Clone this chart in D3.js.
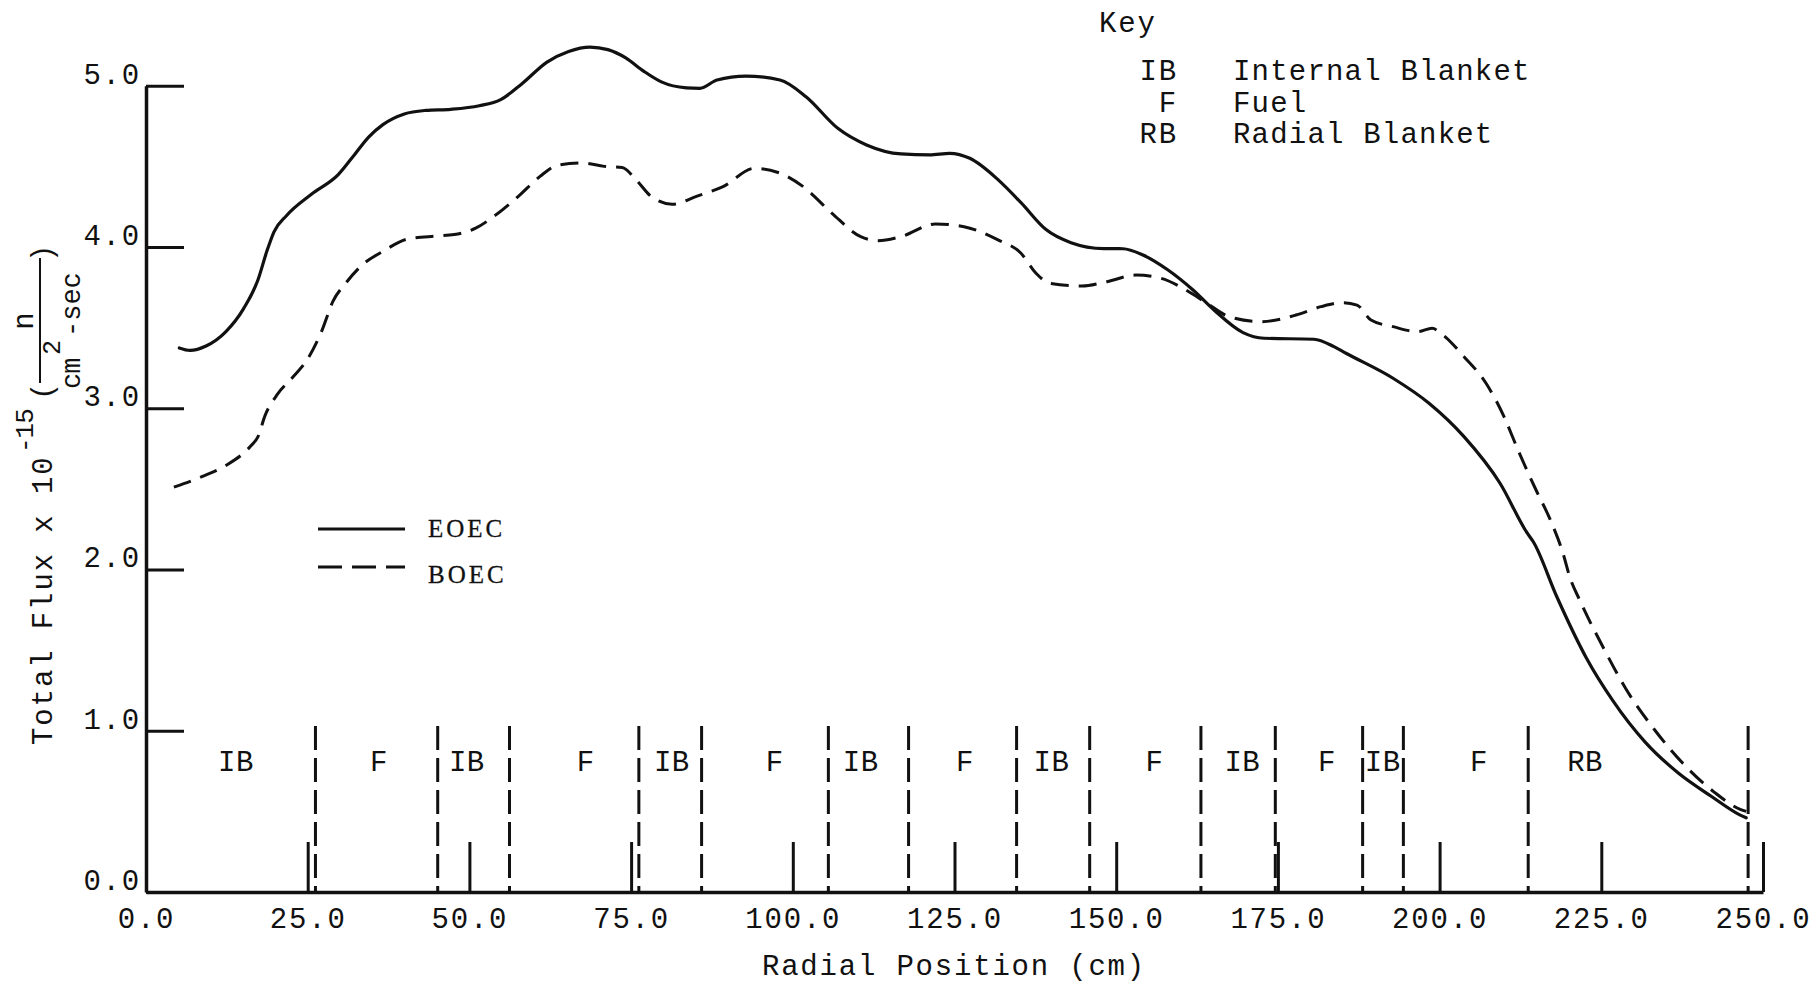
<!DOCTYPE html>
<html>
<head>
<meta charset="utf-8">
<script src="https://cdn.jsdelivr.net/npm/d3@7"></script>
<style>
  html, body { margin: 0; padding: 0; background: #ffffff; }
  svg { display: block; }
  .tw { font-family: "Liberation Mono", "DejaVu Sans Mono", monospace; fill: #111; }
  .serif { font-family: "Liberation Serif", "DejaVu Serif", serif; fill: #111; }
</style>
</head>
<body>
<svg id="chart" width="1816" height="987"></svg>
<script>
// Total neutron flux (x 1e15 n/cm^2-sec) versus radial position (cm)

// End of equilibrium cycle
const radiusEOEC = [5.15, 6.8, 9.28, 12.32, 15.09, 17.3, 18.68, 19.79, 21.71, 25.57, 29.72, 32.2, 34.42, 36.63,
  39.94, 43.24, 47.11, 51.53, 54.84, 58.13, 62.0, 65.34, 68.65, 71.41, 74.17, 76.93, 79.68, 83.55,
  85.65, 88.28, 92.76, 98.02, 102.04, 106.96, 111.4, 116.73, 121.15, 124.26, 127.37, 131.8,
  135.28, 139.15, 143.01, 148.11, 151.05, 154.14, 158.01, 161.88, 165.12, 169.61, 172.85, 180.58,
  183.67, 185.53, 192.8, 198.36, 203.77, 209.34, 213.51, 214.53, 218.09, 222.67, 226.73, 231.82,
  236.9, 241.99, 246.57, 247.4];
const fluxEOEC = [3.374, 3.359, 3.386, 3.474, 3.618, 3.795, 3.973, 4.094, 4.194, 4.327, 4.449, 4.571, 4.682, 4.759,
  4.825, 4.847, 4.854, 4.876, 4.914, 5.013, 5.147, 5.213, 5.24, 5.224, 5.173, 5.091, 5.024, 4.987,
  4.984, 5.036, 5.06, 5.036, 4.932, 4.736, 4.633, 4.577, 4.571, 4.581, 4.55, 4.415,
  4.275, 4.108, 4.027, 3.99, 3.989, 3.95, 3.857, 3.733, 3.609, 3.469, 3.434, 3.428,
  3.382, 3.341, 3.186, 3.031, 2.824, 2.535, 2.228, 2.169, 1.834, 1.453, 1.19, 0.928,
  0.738, 0.594, 0.475, 0.46];

// Beginning of equilibrium cycle
const radiusBOEC = [4.31, 8.74, 12.32, 16.19, 17.3, 18.4, 20.33, 22.82, 25.03, 27.23, 28.9, 30.83, 33.3, 36.63,
  40.49, 44.9, 47.67, 50.97, 54.28, 57.61, 60.92, 63.68, 67.55, 70.86, 73.61, 75.82, 78.03, 81.34,
  85.21, 89.21, 94.08, 98.08, 101.62, 106.06, 110.5, 113.17, 116.73, 122.05, 126.47, 131.8,
  135.28, 137.6, 139.76, 144.71, 148.58, 153.06, 156.93, 160.79, 164.04, 167.44, 172.39, 177.8,
  181.66, 185.06, 187.23, 189.39, 192.8, 196.66, 198.83, 200.53, 203.77, 207.18, 209.96, 212.12,
  214.91, 217.07, 219.11, 220.12, 221.65, 225.2, 228.77, 233.35, 237.92, 242.5, 246.57, 247.4];
const fluxBOEC = [2.511, 2.577, 2.644, 2.766, 2.822, 2.954, 3.087, 3.198, 3.308, 3.485, 3.663, 3.773, 3.884, 3.973,
  4.05, 4.068, 4.077, 4.117, 4.205, 4.316, 4.438, 4.508, 4.521, 4.5, 4.493, 4.415, 4.316, 4.265,
  4.316, 4.374, 4.488, 4.457, 4.374, 4.209, 4.064, 4.039, 4.064, 4.143, 4.126, 4.043,
  3.961, 3.837, 3.775, 3.758, 3.785, 3.826, 3.806, 3.733, 3.651, 3.568, 3.537, 3.578,
  3.63, 3.655, 3.64, 3.547, 3.506, 3.475, 3.496, 3.454, 3.32, 3.155, 2.948, 2.741,
  2.493, 2.312, 2.097, 1.954, 1.811, 1.524, 1.262, 1.0, 0.785, 0.618, 0.511, 0.5];

// Core zone boundaries (cm) and the zone names between them
const zoneBounds = [26.2, 45.1, 56.2, 76.2, 85.9, 105.5, 117.9, 134.6, 145.9, 163.1, 174.6, 188.1, 194.4, 213.7, 247.7];
const zoneNames = ["IB", "F", "IB", "F", "IB", "F", "IB", "F", "IB", "F", "IB", "F", "IB", "F", "RB"];
const zoneLabelAt = [13.9, 36.0, 49.6, 68.0, 81.3, 97.2, 110.5, 126.6, 140.0, 155.9, 169.5, 182.6, 191.2, 206.1, 222.5];

const xTicks = [0, 25, 50, 75, 100, 125, 150, 175, 200, 225, 250];
const yTicks = [0, 1, 2, 3, 4, 5];

const keyCodes = ["IB", "F", "RB"];
const keyNames = ["Internal Blanket", "Fuel", "Radial Blanket"];
const seriesNames = ["EOEC", "BOEC"];

const svg = d3.select("#chart");
svg.append("rect").attr("width", 1816).attr("height", 987).attr("fill", "#fff");

const x = d3.scaleLinear().domain([0, 250]).range([146, 1763]);
const y = d3.scaleLinear().domain([0, 5]).range([892, 85.75]);
const ink = "#111";
const FS = 29;     // typewriter text size
const LS = 1.8;    // typewriter letter spacing

// zone boundaries (dashed verticals)
svg.append("g").selectAll("line").data(zoneBounds).join("line")
  .attr("x1", d => x(d)).attr("x2", d => x(d))
  .attr("y1", y(1.03)).attr("y2", y(0))
  .attr("stroke", ink).attr("stroke-width", 3).attr("stroke-dasharray", "24,8");

// zone names
svg.append("g").selectAll("text").data(zoneNames).join("text")
  .attr("class", "tw")
  .attr("x", (d, i) => x(zoneLabelAt[i]))
  .attr("y", y(0.75))
  .attr("text-anchor", "middle")
  .attr("font-size", FS)
  .attr("letter-spacing", 0.5)
  .text(d => d);

// axes
const yAxis = d3.axisLeft(y).tickValues(yTicks).tickFormat(d3.format(".1f"))
  .tickSizeInner(-38).tickSizeOuter(0).tickPadding(5);
const gy = svg.append("g").attr("transform", `translate(${x(0)},0)`).call(yAxis);
gy.select(".domain").attr("stroke", ink).attr("stroke-width", 3.5);
gy.selectAll(".tick line").attr("stroke", ink).attr("stroke-width", 3);
gy.selectAll(".tick text").attr("class", "tw").attr("font-size", FS).attr("letter-spacing", LS)
  .attr("y", -12).attr("fill", ink);

const xAxis = d3.axisBottom(x).tickValues(xTicks).tickFormat(d3.format(".1f"))
  .tickSizeInner(-50).tickSizeOuter(0).tickPadding(15);
const gx = svg.append("g").attr("transform", `translate(0,${y(0)})`).call(xAxis);
gx.select(".domain").attr("stroke", ink).attr("stroke-width", 3.5);
gx.selectAll(".tick line").attr("stroke", ink).attr("stroke-width", 3);
gx.selectAll(".tick text").attr("class", "tw").attr("font-size", FS).attr("letter-spacing", LS).attr("fill", ink);
[gx, gy].forEach(g => g.attr("font-family", null).attr("font-size", null));

// flux curves
const line = d3.line().x(d => x(d[0])).y(d => y(d[1])).curve(d3.curveMonotoneX);
const eoec = radiusEOEC.map((r, i) => [r, fluxEOEC[i]]);
const boec = radiusBOEC.map((r, i) => [r, fluxBOEC[i]]);

svg.append("path").datum(eoec).attr("d", line)
  .attr("fill", "none").attr("stroke", ink).attr("stroke-width", 3.2)
  .attr("stroke-linejoin", "round").attr("stroke-linecap", "round");
svg.append("path").datum(boec).attr("d", line)
  .attr("fill", "none").attr("stroke", ink).attr("stroke-width", 3)
  .attr("stroke-dasharray", "18,10");

// series legend
const legend = svg.append("g");
const dashes = [null, "24,10"];
seriesNames.forEach((name, i) => {
  const ly = 529 + i * 38;
  legend.append("line").attr("x1", 318).attr("x2", 405).attr("y1", ly).attr("y2", ly)
    .attr("stroke", ink).attr("stroke-width", 3).attr("stroke-dasharray", dashes[i]);
  legend.append("text").attr("class", "serif").attr("x", 428).attr("y", ly + 8 + i * 8)
    .attr("font-size", 25).attr("letter-spacing", 3).attr("stroke", ink).attr("stroke-width", 0.3)
    .text(name);
});

// key of zone abbreviations
const key = svg.append("g");
key.append("text").attr("class", "tw").attr("x", 1099).attr("y", 32)
  .attr("font-size", FS).attr("letter-spacing", LS).text("Key");
keyCodes.forEach((c, i) => {
  const by = 80 + i * 31.5;
  key.append("text").attr("class", "tw").attr("x", 1178).attr("y", by)
    .attr("text-anchor", "end").attr("font-size", FS).attr("letter-spacing", LS).text(c);
  key.append("text").attr("class", "tw").attr("x", 1233).attr("y", by)
    .attr("font-size", FS).attr("letter-spacing", 1.2).text(keyNames[i]);
});

// axis titles
svg.append("text").attr("class", "tw").attr("x", 954).attr("y", 975)
  .attr("text-anchor", "middle").attr("font-size", FS).attr("letter-spacing", LS)
  .text("Radial Position (cm)");

const yt = svg.append("g").attr("transform", "translate(52,745) rotate(-90)");
yt.append("text").attr("class", "tw").attr("x", 0).attr("y", 0)
  .attr("font-size", FS).attr("letter-spacing", 1.9).text("Total Flux x 10");
yt.append("text").attr("class", "tw").attr("x", 292).attr("y", -19)
  .attr("font-size", 26).attr("letter-spacing", -1).text("-15");
yt.append("text").attr("class", "tw").attr("x", 345).attr("y", 0)
  .attr("font-size", FS).text("(");
yt.append("line").attr("x1", 362).attr("x2", 487).attr("y1", -12).attr("y2", -12)
  .attr("stroke", ink).attr("stroke-width", 2);
yt.append("text").attr("class", "tw").attr("x", 424).attr("y", -19)
  .attr("text-anchor", "middle").attr("font-size", FS).text("n");
yt.append("text").attr("class", "tw").attr("x", 356).attr("y", 28)
  .attr("font-size", 27).attr("letter-spacing", -1).text("cm");
yt.append("text").attr("class", "tw").attr("x", 390).attr("y", 8)
  .attr("font-size", 25).text("2");
yt.append("text").attr("class", "tw").attr("x", 408).attr("y", 28)
  .attr("font-size", 27).attr("letter-spacing", 0).text("-sec");
yt.append("text").attr("class", "tw").attr("x", 483).attr("y", 0)
  .attr("font-size", FS).text(")");
</script>
</body>
</html>
